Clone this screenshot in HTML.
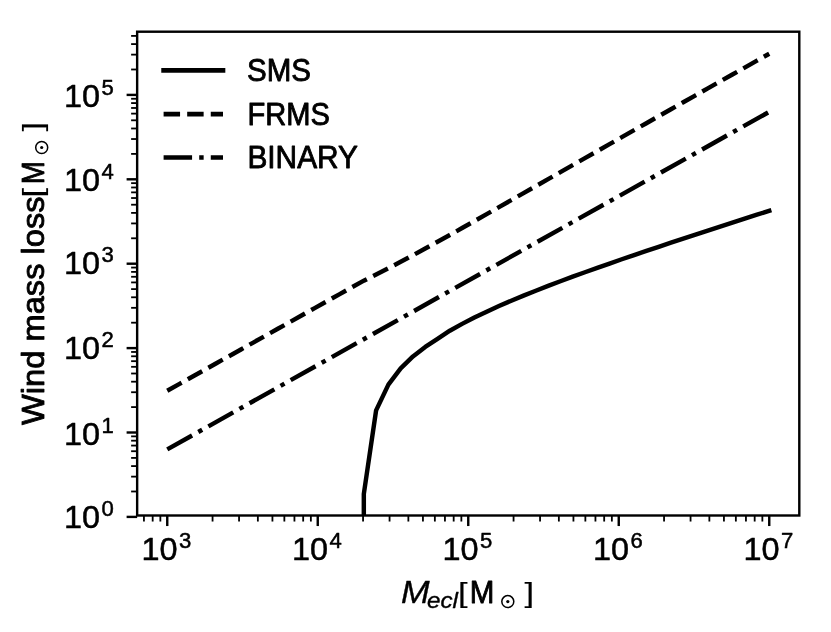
<!DOCTYPE html>
<html lang="en"><head><meta charset="utf-8"><title>Wind mass loss vs M_ecl</title>
<style>
html,body{margin:0;padding:0;background:#ffffff;}
body{width:831px;height:632px;overflow:hidden;}
svg{display:block;will-change:transform;filter:grayscale(1);}
text{font-family:"Liberation Sans",sans-serif;fill:#000000;stroke:#000000;stroke-width:0.85px;stroke-linejoin:round;}
.it{font-style:italic;stroke-width:0.35px;}
.br{stroke-width:0.15px;}
.tk text{stroke-width:0.5px;}
</style></head><body>
<svg width="831" height="632" viewBox="0 0 831 632">
<rect x="0" y="0" width="831" height="632" fill="#ffffff"/>
<defs><clipPath id="ax"><rect x="137.15" y="31.70" width="662.15" height="483.80"/></clipPath></defs>
<g clip-path="url(#ax)" fill="none" stroke="#000000" stroke-width="4.45">
<polyline stroke-linecap="square" stroke-linejoin="round" points="363.82,545.00 363.82,494.00 376.11,410.40 388.39,384.60 400.68,368.40 412.96,356.40 425.25,346.90 437.54,338.90 449.82,330.72 462.11,323.89 474.39,317.57 486.68,311.66 498.96,306.08 511.25,300.75 523.54,295.64 535.82,290.70 548.11,285.91 560.39,281.25 572.68,276.69 584.96,272.23 597.25,267.84 609.54,263.53 621.82,259.27 634.11,255.06 646.39,250.90 658.68,246.77 670.96,242.68 683.25,238.62 695.54,234.59 707.82,230.58 720.11,226.59 732.39,222.62 744.68,218.67 756.96,214.73 769.25,210.80"/>
<polyline stroke-dasharray="16.46 7.12" points="167.25,390.80 179.54,383.91 191.82,377.02 204.11,370.13 216.39,363.24 228.68,356.35 240.96,349.46 253.25,342.57 265.54,335.68 277.82,328.79 290.11,321.90 302.39,315.01 314.68,308.12 326.96,301.23 339.25,294.34 351.54,287.45 363.82,280.67 376.11,274.56 388.39,268.29 400.68,261.84 412.96,255.25 425.25,248.54 437.54,241.72 449.82,234.93 462.11,228.03 474.39,221.10 486.68,214.14 498.96,207.16 511.25,200.17 523.54,193.17 535.82,186.16 548.11,179.16 560.39,172.15 572.68,165.14 584.96,158.14 597.25,151.15 609.54,144.15 621.82,137.17 634.11,130.18 646.39,123.21 658.68,116.23 670.96,109.27 683.25,102.31 695.54,95.35 707.82,88.40 720.11,81.45 732.39,74.51 744.68,67.57 756.96,60.63 769.25,53.70"/>
<line x1="167.25" y1="449.40" x2="769.25" y2="111.80" stroke-dasharray="28.48 7.12 4.45 7.12"/>
</g>
<g stroke="#000000" fill="none">
<line x1="167.25" y1="515.50" x2="167.25" y2="526.05" stroke-width="2.41"/>
<line x1="317.75" y1="515.50" x2="317.75" y2="526.05" stroke-width="2.41"/>
<line x1="468.25" y1="515.50" x2="468.25" y2="526.05" stroke-width="2.41"/>
<line x1="618.75" y1="515.50" x2="618.75" y2="526.05" stroke-width="2.41"/>
<line x1="769.25" y1="515.50" x2="769.25" y2="526.05" stroke-width="2.41"/>
<line x1="143.94" y1="515.50" x2="143.94" y2="521.53" stroke-width="1.81"/>
<line x1="152.67" y1="515.50" x2="152.67" y2="521.53" stroke-width="1.81"/>
<line x1="160.36" y1="515.50" x2="160.36" y2="521.53" stroke-width="1.81"/>
<line x1="212.56" y1="515.50" x2="212.56" y2="521.53" stroke-width="1.81"/>
<line x1="239.06" y1="515.50" x2="239.06" y2="521.53" stroke-width="1.81"/>
<line x1="257.86" y1="515.50" x2="257.86" y2="521.53" stroke-width="1.81"/>
<line x1="272.44" y1="515.50" x2="272.44" y2="521.53" stroke-width="1.81"/>
<line x1="284.36" y1="515.50" x2="284.36" y2="521.53" stroke-width="1.81"/>
<line x1="294.44" y1="515.50" x2="294.44" y2="521.53" stroke-width="1.81"/>
<line x1="303.17" y1="515.50" x2="303.17" y2="521.53" stroke-width="1.81"/>
<line x1="310.86" y1="515.50" x2="310.86" y2="521.53" stroke-width="1.81"/>
<line x1="363.06" y1="515.50" x2="363.06" y2="521.53" stroke-width="1.81"/>
<line x1="389.56" y1="515.50" x2="389.56" y2="521.53" stroke-width="1.81"/>
<line x1="408.36" y1="515.50" x2="408.36" y2="521.53" stroke-width="1.81"/>
<line x1="422.94" y1="515.50" x2="422.94" y2="521.53" stroke-width="1.81"/>
<line x1="434.86" y1="515.50" x2="434.86" y2="521.53" stroke-width="1.81"/>
<line x1="444.94" y1="515.50" x2="444.94" y2="521.53" stroke-width="1.81"/>
<line x1="453.67" y1="515.50" x2="453.67" y2="521.53" stroke-width="1.81"/>
<line x1="461.36" y1="515.50" x2="461.36" y2="521.53" stroke-width="1.81"/>
<line x1="513.56" y1="515.50" x2="513.56" y2="521.53" stroke-width="1.81"/>
<line x1="540.06" y1="515.50" x2="540.06" y2="521.53" stroke-width="1.81"/>
<line x1="558.86" y1="515.50" x2="558.86" y2="521.53" stroke-width="1.81"/>
<line x1="573.44" y1="515.50" x2="573.44" y2="521.53" stroke-width="1.81"/>
<line x1="585.36" y1="515.50" x2="585.36" y2="521.53" stroke-width="1.81"/>
<line x1="595.44" y1="515.50" x2="595.44" y2="521.53" stroke-width="1.81"/>
<line x1="604.17" y1="515.50" x2="604.17" y2="521.53" stroke-width="1.81"/>
<line x1="611.86" y1="515.50" x2="611.86" y2="521.53" stroke-width="1.81"/>
<line x1="664.06" y1="515.50" x2="664.06" y2="521.53" stroke-width="1.81"/>
<line x1="690.56" y1="515.50" x2="690.56" y2="521.53" stroke-width="1.81"/>
<line x1="709.36" y1="515.50" x2="709.36" y2="521.53" stroke-width="1.81"/>
<line x1="723.94" y1="515.50" x2="723.94" y2="521.53" stroke-width="1.81"/>
<line x1="735.86" y1="515.50" x2="735.86" y2="521.53" stroke-width="1.81"/>
<line x1="745.94" y1="515.50" x2="745.94" y2="521.53" stroke-width="1.81"/>
<line x1="754.67" y1="515.50" x2="754.67" y2="521.53" stroke-width="1.81"/>
<line x1="762.36" y1="515.50" x2="762.36" y2="521.53" stroke-width="1.81"/>
<line x1="137.15" y1="516.90" x2="126.60" y2="516.90" stroke-width="2.41"/>
<line x1="137.15" y1="432.50" x2="126.60" y2="432.50" stroke-width="2.41"/>
<line x1="137.15" y1="348.10" x2="126.60" y2="348.10" stroke-width="2.41"/>
<line x1="137.15" y1="263.70" x2="126.60" y2="263.70" stroke-width="2.41"/>
<line x1="137.15" y1="179.30" x2="126.60" y2="179.30" stroke-width="2.41"/>
<line x1="137.15" y1="94.90" x2="126.60" y2="94.90" stroke-width="2.41"/>
<line x1="137.15" y1="491.49" x2="131.12" y2="491.49" stroke-width="1.81"/>
<line x1="137.15" y1="476.63" x2="131.12" y2="476.63" stroke-width="1.81"/>
<line x1="137.15" y1="466.09" x2="131.12" y2="466.09" stroke-width="1.81"/>
<line x1="137.15" y1="457.91" x2="131.12" y2="457.91" stroke-width="1.81"/>
<line x1="137.15" y1="451.22" x2="131.12" y2="451.22" stroke-width="1.81"/>
<line x1="137.15" y1="445.57" x2="131.12" y2="445.57" stroke-width="1.81"/>
<line x1="137.15" y1="440.68" x2="131.12" y2="440.68" stroke-width="1.81"/>
<line x1="137.15" y1="436.36" x2="131.12" y2="436.36" stroke-width="1.81"/>
<line x1="137.15" y1="407.09" x2="131.12" y2="407.09" stroke-width="1.81"/>
<line x1="137.15" y1="392.23" x2="131.12" y2="392.23" stroke-width="1.81"/>
<line x1="137.15" y1="381.69" x2="131.12" y2="381.69" stroke-width="1.81"/>
<line x1="137.15" y1="373.51" x2="131.12" y2="373.51" stroke-width="1.81"/>
<line x1="137.15" y1="366.82" x2="131.12" y2="366.82" stroke-width="1.81"/>
<line x1="137.15" y1="361.17" x2="131.12" y2="361.17" stroke-width="1.81"/>
<line x1="137.15" y1="356.28" x2="131.12" y2="356.28" stroke-width="1.81"/>
<line x1="137.15" y1="351.96" x2="131.12" y2="351.96" stroke-width="1.81"/>
<line x1="137.15" y1="322.69" x2="131.12" y2="322.69" stroke-width="1.81"/>
<line x1="137.15" y1="307.83" x2="131.12" y2="307.83" stroke-width="1.81"/>
<line x1="137.15" y1="297.29" x2="131.12" y2="297.29" stroke-width="1.81"/>
<line x1="137.15" y1="289.11" x2="131.12" y2="289.11" stroke-width="1.81"/>
<line x1="137.15" y1="282.42" x2="131.12" y2="282.42" stroke-width="1.81"/>
<line x1="137.15" y1="276.77" x2="131.12" y2="276.77" stroke-width="1.81"/>
<line x1="137.15" y1="271.88" x2="131.12" y2="271.88" stroke-width="1.81"/>
<line x1="137.15" y1="267.56" x2="131.12" y2="267.56" stroke-width="1.81"/>
<line x1="137.15" y1="238.29" x2="131.12" y2="238.29" stroke-width="1.81"/>
<line x1="137.15" y1="223.43" x2="131.12" y2="223.43" stroke-width="1.81"/>
<line x1="137.15" y1="212.89" x2="131.12" y2="212.89" stroke-width="1.81"/>
<line x1="137.15" y1="204.71" x2="131.12" y2="204.71" stroke-width="1.81"/>
<line x1="137.15" y1="198.02" x2="131.12" y2="198.02" stroke-width="1.81"/>
<line x1="137.15" y1="192.37" x2="131.12" y2="192.37" stroke-width="1.81"/>
<line x1="137.15" y1="187.48" x2="131.12" y2="187.48" stroke-width="1.81"/>
<line x1="137.15" y1="183.16" x2="131.12" y2="183.16" stroke-width="1.81"/>
<line x1="137.15" y1="153.89" x2="131.12" y2="153.89" stroke-width="1.81"/>
<line x1="137.15" y1="139.03" x2="131.12" y2="139.03" stroke-width="1.81"/>
<line x1="137.15" y1="128.49" x2="131.12" y2="128.49" stroke-width="1.81"/>
<line x1="137.15" y1="120.31" x2="131.12" y2="120.31" stroke-width="1.81"/>
<line x1="137.15" y1="113.62" x2="131.12" y2="113.62" stroke-width="1.81"/>
<line x1="137.15" y1="107.97" x2="131.12" y2="107.97" stroke-width="1.81"/>
<line x1="137.15" y1="103.08" x2="131.12" y2="103.08" stroke-width="1.81"/>
<line x1="137.15" y1="98.76" x2="131.12" y2="98.76" stroke-width="1.81"/>
<line x1="137.15" y1="69.49" x2="131.12" y2="69.49" stroke-width="1.81"/>
<line x1="137.15" y1="54.63" x2="131.12" y2="54.63" stroke-width="1.81"/>
<line x1="137.15" y1="44.09" x2="131.12" y2="44.09" stroke-width="1.81"/>
<line x1="137.15" y1="35.91" x2="131.12" y2="35.91" stroke-width="1.81"/>
</g>
<rect x="137.15" y="31.70" width="662.15" height="483.80" fill="none" stroke="#000000" stroke-width="2.41" stroke-linejoin="miter"/>
<g class="tk">
<text x="141.45" y="560.10" font-size="31.6" textLength="36.1" lengthAdjust="spacingAndGlyphs">10</text>
<text x="179.05" y="548.20" font-size="21.5" textLength="12.3" lengthAdjust="spacingAndGlyphs">3</text>
<text x="291.95" y="560.10" font-size="31.6" textLength="36.1" lengthAdjust="spacingAndGlyphs">10</text>
<text x="329.55" y="548.20" font-size="21.5" textLength="12.3" lengthAdjust="spacingAndGlyphs">4</text>
<text x="442.45" y="560.10" font-size="31.6" textLength="36.1" lengthAdjust="spacingAndGlyphs">10</text>
<text x="480.05" y="548.20" font-size="21.5" textLength="12.3" lengthAdjust="spacingAndGlyphs">5</text>
<text x="592.95" y="560.10" font-size="31.6" textLength="36.1" lengthAdjust="spacingAndGlyphs">10</text>
<text x="630.55" y="548.20" font-size="21.5" textLength="12.3" lengthAdjust="spacingAndGlyphs">6</text>
<text x="743.45" y="560.10" font-size="31.6" textLength="36.1" lengthAdjust="spacingAndGlyphs">10</text>
<text x="781.05" y="548.20" font-size="21.5" textLength="12.3" lengthAdjust="spacingAndGlyphs">7</text>
<text x="64.00" y="527.60" font-size="31.6" textLength="36.1" lengthAdjust="spacingAndGlyphs">10</text>
<text x="101.60" y="515.70" font-size="21.5" textLength="12.3" lengthAdjust="spacingAndGlyphs">0</text>
<text x="64.00" y="444.50" font-size="31.6" textLength="36.1" lengthAdjust="spacingAndGlyphs">10</text>
<text x="101.60" y="432.60" font-size="21.5" textLength="12.3" lengthAdjust="spacingAndGlyphs">1</text>
<text x="64.00" y="358.70" font-size="31.6" textLength="36.1" lengthAdjust="spacingAndGlyphs">10</text>
<text x="101.60" y="346.80" font-size="21.5" textLength="12.3" lengthAdjust="spacingAndGlyphs">2</text>
<text x="64.00" y="274.20" font-size="31.6" textLength="36.1" lengthAdjust="spacingAndGlyphs">10</text>
<text x="101.60" y="262.30" font-size="21.5" textLength="12.3" lengthAdjust="spacingAndGlyphs">3</text>
<text x="64.00" y="191.30" font-size="31.6" textLength="36.1" lengthAdjust="spacingAndGlyphs">10</text>
<text x="101.60" y="179.40" font-size="21.5" textLength="12.3" lengthAdjust="spacingAndGlyphs">4</text>
<text x="64.00" y="106.90" font-size="31.6" textLength="36.1" lengthAdjust="spacingAndGlyphs">10</text>
<text x="101.60" y="95.00" font-size="21.5" textLength="12.3" lengthAdjust="spacingAndGlyphs">5</text>
</g>
<g>
<text class="it" x="401.0" y="603.40" font-size="31.5" textLength="28.6" lengthAdjust="spacingAndGlyphs">M</text>
<text class="it" x="427.0" y="607.50" font-size="21.5" textLength="31" lengthAdjust="spacingAndGlyphs">ecl</text>
<text class="br" x="458.0" y="601.80" font-size="27.2" textLength="9.6" lengthAdjust="spacingAndGlyphs">[</text>
<text x="469.7" y="603.40" font-size="31.5" textLength="24.6" lengthAdjust="spacingAndGlyphs">M</text>
<circle cx="507.80" cy="601.60" r="6.00" fill="none" stroke="#000000" stroke-width="1.5"/>
<circle cx="507.80" cy="601.60" r="1.6" fill="#000000"/>
<text class="br" x="524.4" y="601.80" font-size="27.2" textLength="9.6" lengthAdjust="spacingAndGlyphs">]</text>
</g>
<g transform="translate(43.50,424.40) rotate(-90)">
<text x="-0.6" y="0" font-size="31.5" textLength="228.6" lengthAdjust="spacingAndGlyphs">Wind mass loss</text>
<text class="br" x="226.9" y="-1.60" font-size="27.2" textLength="9.6" lengthAdjust="spacingAndGlyphs">[</text>
<text x="240.2" y="0" font-size="31.5" textLength="23.0" lengthAdjust="spacingAndGlyphs">M</text>
<circle cx="276.90" cy="-1.80" r="6.00" fill="none" stroke="#000000" stroke-width="1.5"/>
<circle cx="276.90" cy="-1.80" r="1.6" fill="#000000"/>
<text class="br" x="292.8" y="-1.60" font-size="27.2" textLength="9.6" lengthAdjust="spacingAndGlyphs">]</text>
</g>
<g fill="none" stroke="#000000" stroke-width="4.65">
<line x1="163.60" y1="70.4" x2="223.00" y2="70.4" stroke-linecap="square"/>
<line x1="163.60" y1="114.1" x2="223.00" y2="114.1" stroke-dasharray="16.46 7.12"/>
<line x1="163.60" y1="157.5" x2="223.00" y2="157.5" stroke-dasharray="28.48 7.12 4.45 7.12"/>
</g>
<g>
<text x="247.0" y="81.3" font-size="31.3" textLength="64" lengthAdjust="spacingAndGlyphs">SMS</text>
<text x="247.4" y="124.8" font-size="31.3" textLength="82.4" lengthAdjust="spacingAndGlyphs">FRMS</text>
<text x="247.4" y="168.2" font-size="31.3" textLength="110.6" lengthAdjust="spacingAndGlyphs">BINARY</text>
</g>
</svg>
</body></html>
